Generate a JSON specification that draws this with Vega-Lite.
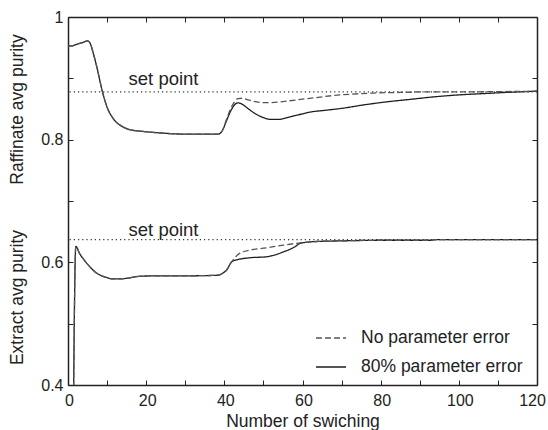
{
  "$schema": "https://vega.github.io/schema/vega-lite/v6.json",
  "autosize": "none",
  "width": 469,
  "height": 368,
  "padding": {"left": 68, "top": 17, "right": 11, "bottom": 45},
  "background": "white",
  "config": {
    "font": "Liberation Sans",
    "view": {"stroke": null},
    "axis": {
      "domainColor": "#222",
      "domainWidth": 1.5,
      "tickColor": "#222",
      "tickSize": -5,
      "tickWidth": 1,
      "grid": false,
      "labelFont": "Liberation Sans",
      "labelFontSize": 16,
      "labelColor": "#222",
      "labelFlush": false,
      "titleFont": "Liberation Sans",
      "titleFontSize": 17.5,
      "titleFontWeight": "normal",
      "titleColor": "#222"
    },
    "legend": {
      "orient": "none",
      "legendX": 247,
      "legendY": 305,
      "symbolType": "stroke",
      "symbolSize": 900,
      "symbolStrokeWidth": 1.3,
      "labelFontSize": 17.5,
      "labelFont": "Liberation Sans",
      "labelColor": "#222",
      "labelLimit": 400,
      "labelOffset": 14,
      "rowPadding": 4,
      "padding": 0
    }
  },
  "datasets": {
    "curves": [
      {"series": "Raffinate", "case": "80% parameter error", "x": 0, "y": 0.953},
      {"series": "Raffinate", "case": "80% parameter error", "x": 1, "y": 0.953},
      {"series": "Raffinate", "case": "80% parameter error", "x": 2, "y": 0.955},
      {"series": "Raffinate", "case": "80% parameter error", "x": 3, "y": 0.957},
      {"series": "Raffinate", "case": "80% parameter error", "x": 4, "y": 0.959},
      {"series": "Raffinate", "case": "80% parameter error", "x": 5, "y": 0.961},
      {"series": "Raffinate", "case": "80% parameter error", "x": 5.6, "y": 0.958},
      {"series": "Raffinate", "case": "80% parameter error", "x": 6.5, "y": 0.94},
      {"series": "Raffinate", "case": "80% parameter error", "x": 7.4, "y": 0.918},
      {"series": "Raffinate", "case": "80% parameter error", "x": 8.7, "y": 0.881},
      {"series": "Raffinate", "case": "80% parameter error", "x": 10, "y": 0.853},
      {"series": "Raffinate", "case": "80% parameter error", "x": 11.5, "y": 0.835},
      {"series": "Raffinate", "case": "80% parameter error", "x": 14, "y": 0.821},
      {"series": "Raffinate", "case": "80% parameter error", "x": 16, "y": 0.816},
      {"series": "Raffinate", "case": "80% parameter error", "x": 18.4, "y": 0.814},
      {"series": "Raffinate", "case": "80% parameter error", "x": 23.5, "y": 0.811},
      {"series": "Raffinate", "case": "80% parameter error", "x": 30, "y": 0.809},
      {"series": "Raffinate", "case": "80% parameter error", "x": 35, "y": 0.809},
      {"series": "Raffinate", "case": "80% parameter error", "x": 38.5, "y": 0.809},
      {"series": "Raffinate", "case": "80% parameter error", "x": 39.5, "y": 0.815},
      {"series": "Raffinate", "case": "80% parameter error", "x": 40.5, "y": 0.83},
      {"series": "Raffinate", "case": "80% parameter error", "x": 41.5, "y": 0.845},
      {"series": "Raffinate", "case": "80% parameter error", "x": 42.5, "y": 0.856},
      {"series": "Raffinate", "case": "80% parameter error", "x": 43.5, "y": 0.86},
      {"series": "Raffinate", "case": "80% parameter error", "x": 44.5, "y": 0.858},
      {"series": "Raffinate", "case": "80% parameter error", "x": 46, "y": 0.851},
      {"series": "Raffinate", "case": "80% parameter error", "x": 48, "y": 0.842},
      {"series": "Raffinate", "case": "80% parameter error", "x": 50, "y": 0.836},
      {"series": "Raffinate", "case": "80% parameter error", "x": 52, "y": 0.833},
      {"series": "Raffinate", "case": "80% parameter error", "x": 54, "y": 0.833},
      {"series": "Raffinate", "case": "80% parameter error", "x": 56, "y": 0.836},
      {"series": "Raffinate", "case": "80% parameter error", "x": 58, "y": 0.839},
      {"series": "Raffinate", "case": "80% parameter error", "x": 62, "y": 0.845},
      {"series": "Raffinate", "case": "80% parameter error", "x": 66, "y": 0.848},
      {"series": "Raffinate", "case": "80% parameter error", "x": 70, "y": 0.851},
      {"series": "Raffinate", "case": "80% parameter error", "x": 76, "y": 0.857},
      {"series": "Raffinate", "case": "80% parameter error", "x": 82, "y": 0.862},
      {"series": "Raffinate", "case": "80% parameter error", "x": 88, "y": 0.866},
      {"series": "Raffinate", "case": "80% parameter error", "x": 94, "y": 0.87},
      {"series": "Raffinate", "case": "80% parameter error", "x": 100, "y": 0.873},
      {"series": "Raffinate", "case": "80% parameter error", "x": 106, "y": 0.875},
      {"series": "Raffinate", "case": "80% parameter error", "x": 112, "y": 0.877},
      {"series": "Raffinate", "case": "80% parameter error", "x": 120, "y": 0.879},

      {"series": "Extract", "case": "80% parameter error", "x": 1, "y": 0.0},
      {"series": "Extract", "case": "80% parameter error", "x": 2, "y": 0.626},
      {"series": "Extract", "case": "80% parameter error", "x": 3, "y": 0.614},
      {"series": "Extract", "case": "80% parameter error", "x": 4, "y": 0.605},
      {"series": "Extract", "case": "80% parameter error", "x": 5, "y": 0.597},
      {"series": "Extract", "case": "80% parameter error", "x": 6, "y": 0.59},
      {"series": "Extract", "case": "80% parameter error", "x": 7, "y": 0.584},
      {"series": "Extract", "case": "80% parameter error", "x": 8, "y": 0.58},
      {"series": "Extract", "case": "80% parameter error", "x": 9, "y": 0.577},
      {"series": "Extract", "case": "80% parameter error", "x": 10, "y": 0.575},
      {"series": "Extract", "case": "80% parameter error", "x": 11.5, "y": 0.573},
      {"series": "Extract", "case": "80% parameter error", "x": 13, "y": 0.573},
      {"series": "Extract", "case": "80% parameter error", "x": 15, "y": 0.574},
      {"series": "Extract", "case": "80% parameter error", "x": 18, "y": 0.577},
      {"series": "Extract", "case": "80% parameter error", "x": 22, "y": 0.578},
      {"series": "Extract", "case": "80% parameter error", "x": 30, "y": 0.578},
      {"series": "Extract", "case": "80% parameter error", "x": 38.5, "y": 0.579},
      {"series": "Extract", "case": "80% parameter error", "x": 39.5, "y": 0.582},
      {"series": "Extract", "case": "80% parameter error", "x": 40.6, "y": 0.5875},
      {"series": "Extract", "case": "80% parameter error", "x": 41.9, "y": 0.601},
      {"series": "Extract", "case": "80% parameter error", "x": 43.2, "y": 0.604},
      {"series": "Extract", "case": "80% parameter error", "x": 46.6, "y": 0.6075},
      {"series": "Extract", "case": "80% parameter error", "x": 50.8, "y": 0.609},
      {"series": "Extract", "case": "80% parameter error", "x": 55.1, "y": 0.617},
      {"series": "Extract", "case": "80% parameter error", "x": 58.1, "y": 0.6255},
      {"series": "Extract", "case": "80% parameter error", "x": 59.4, "y": 0.631},
      {"series": "Extract", "case": "80% parameter error", "x": 63.6, "y": 0.634},
      {"series": "Extract", "case": "80% parameter error", "x": 70, "y": 0.635},
      {"series": "Extract", "case": "80% parameter error", "x": 80, "y": 0.636},
      {"series": "Extract", "case": "80% parameter error", "x": 93, "y": 0.636},
      {"series": "Extract", "case": "80% parameter error", "x": 94, "y": 0.637},
      {"series": "Extract", "case": "80% parameter error", "x": 120, "y": 0.637},

      {"series": "Raffinate", "case": "No parameter error", "x": 0, "y": 0.953},
      {"series": "Raffinate", "case": "No parameter error", "x": 1, "y": 0.953},
      {"series": "Raffinate", "case": "No parameter error", "x": 2, "y": 0.955},
      {"series": "Raffinate", "case": "No parameter error", "x": 3, "y": 0.957},
      {"series": "Raffinate", "case": "No parameter error", "x": 4, "y": 0.959},
      {"series": "Raffinate", "case": "No parameter error", "x": 5, "y": 0.961},
      {"series": "Raffinate", "case": "No parameter error", "x": 5.6, "y": 0.958},
      {"series": "Raffinate", "case": "No parameter error", "x": 6.5, "y": 0.94},
      {"series": "Raffinate", "case": "No parameter error", "x": 7.4, "y": 0.918},
      {"series": "Raffinate", "case": "No parameter error", "x": 8.7, "y": 0.881},
      {"series": "Raffinate", "case": "No parameter error", "x": 10, "y": 0.853},
      {"series": "Raffinate", "case": "No parameter error", "x": 11.5, "y": 0.835},
      {"series": "Raffinate", "case": "No parameter error", "x": 14, "y": 0.821},
      {"series": "Raffinate", "case": "No parameter error", "x": 16, "y": 0.816},
      {"series": "Raffinate", "case": "No parameter error", "x": 18.4, "y": 0.814},
      {"series": "Raffinate", "case": "No parameter error", "x": 23.5, "y": 0.811},
      {"series": "Raffinate", "case": "No parameter error", "x": 30, "y": 0.809},
      {"series": "Raffinate", "case": "No parameter error", "x": 35, "y": 0.809},
      {"series": "Raffinate", "case": "No parameter error", "x": 38.5, "y": 0.809},
      {"series": "Raffinate", "case": "No parameter error", "x": 39.5, "y": 0.815},
      {"series": "Raffinate", "case": "No parameter error", "x": 40.5, "y": 0.832},
      {"series": "Raffinate", "case": "No parameter error", "x": 41.5, "y": 0.849},
      {"series": "Raffinate", "case": "No parameter error", "x": 42.5, "y": 0.861},
      {"series": "Raffinate", "case": "No parameter error", "x": 43.5, "y": 0.867},
      {"series": "Raffinate", "case": "No parameter error", "x": 44.5, "y": 0.8675},
      {"series": "Raffinate", "case": "No parameter error", "x": 46, "y": 0.865},
      {"series": "Raffinate", "case": "No parameter error", "x": 48, "y": 0.862},
      {"series": "Raffinate", "case": "No parameter error", "x": 50, "y": 0.8605},
      {"series": "Raffinate", "case": "No parameter error", "x": 52, "y": 0.8605},
      {"series": "Raffinate", "case": "No parameter error", "x": 56, "y": 0.863},
      {"series": "Raffinate", "case": "No parameter error", "x": 60, "y": 0.866},
      {"series": "Raffinate", "case": "No parameter error", "x": 64, "y": 0.869},
      {"series": "Raffinate", "case": "No parameter error", "x": 68, "y": 0.872},
      {"series": "Raffinate", "case": "No parameter error", "x": 72, "y": 0.874},
      {"series": "Raffinate", "case": "No parameter error", "x": 78, "y": 0.876},
      {"series": "Raffinate", "case": "No parameter error", "x": 85, "y": 0.877},
      {"series": "Raffinate", "case": "No parameter error", "x": 92, "y": 0.878},
      {"series": "Raffinate", "case": "No parameter error", "x": 100, "y": 0.878},
      {"series": "Raffinate", "case": "No parameter error", "x": 120, "y": 0.879},

      {"series": "Extract", "case": "No parameter error", "x": 1, "y": 0.0},
      {"series": "Extract", "case": "No parameter error", "x": 2, "y": 0.626},
      {"series": "Extract", "case": "No parameter error", "x": 3, "y": 0.614},
      {"series": "Extract", "case": "No parameter error", "x": 4, "y": 0.605},
      {"series": "Extract", "case": "No parameter error", "x": 5, "y": 0.597},
      {"series": "Extract", "case": "No parameter error", "x": 6, "y": 0.59},
      {"series": "Extract", "case": "No parameter error", "x": 7, "y": 0.584},
      {"series": "Extract", "case": "No parameter error", "x": 8, "y": 0.58},
      {"series": "Extract", "case": "No parameter error", "x": 9, "y": 0.577},
      {"series": "Extract", "case": "No parameter error", "x": 10, "y": 0.575},
      {"series": "Extract", "case": "No parameter error", "x": 11.5, "y": 0.573},
      {"series": "Extract", "case": "No parameter error", "x": 13, "y": 0.573},
      {"series": "Extract", "case": "No parameter error", "x": 15, "y": 0.574},
      {"series": "Extract", "case": "No parameter error", "x": 18, "y": 0.577},
      {"series": "Extract", "case": "No parameter error", "x": 22, "y": 0.578},
      {"series": "Extract", "case": "No parameter error", "x": 30, "y": 0.578},
      {"series": "Extract", "case": "No parameter error", "x": 38.5, "y": 0.579},
      {"series": "Extract", "case": "No parameter error", "x": 39.5, "y": 0.582},
      {"series": "Extract", "case": "No parameter error", "x": 40.6, "y": 0.5875},
      {"series": "Extract", "case": "No parameter error", "x": 41.9, "y": 0.601},
      {"series": "Extract", "case": "No parameter error", "x": 44, "y": 0.615},
      {"series": "Extract", "case": "No parameter error", "x": 46.6, "y": 0.62},
      {"series": "Extract", "case": "No parameter error", "x": 50, "y": 0.623},
      {"series": "Extract", "case": "No parameter error", "x": 55.1, "y": 0.628},
      {"series": "Extract", "case": "No parameter error", "x": 58.5, "y": 0.631},
      {"series": "Extract", "case": "No parameter error", "x": 63.6, "y": 0.634},
      {"series": "Extract", "case": "No parameter error", "x": 70, "y": 0.635},
      {"series": "Extract", "case": "No parameter error", "x": 80, "y": 0.636},
      {"series": "Extract", "case": "No parameter error", "x": 93, "y": 0.636},
      {"series": "Extract", "case": "No parameter error", "x": 94, "y": 0.637},
      {"series": "Extract", "case": "No parameter error", "x": 120, "y": 0.637}
    ],
    "setpoints": [
      {"name": "Raffinate", "sp": 0.878},
      {"name": "Extract", "sp": 0.637}
    ],
    "labels": [
      {"label": "set point", "x": 15.5, "y": 0.889},
      {"label": "set point", "x": 15.5, "y": 0.6434}
    ]
  },
  "layer": [
    {
      "data": {"name": "setpoints"},
      "mark": {"type": "rule", "stroke": "#333", "strokeWidth": 1.2, "strokeDash": [1.2, 3]},
      "encoding": {
        "y": {
          "field": "sp", "type": "quantitative",
          "scale": {"domain": [0.4, 1], "nice": false, "zero": false},
          "axis": {
            "orient": "left",
            "labels": false,
            "ticks": false,
            "domain": false,
            "title": "Extract avg purity",
            "titleX": -42,
            "titleY": 280
          }
        }
      }
    },
    {
      "data": {"name": "curves"},
      "mark": {"type": "line", "clip": true, "interpolate": "monotone", "strokeWidth": 1.3},
      "encoding": {
        "x": {
          "field": "x", "type": "quantitative",
          "scale": {"domain": [0, 120], "nice": false},
          "axis": {
            "orient": "bottom",
            "values": [0, 10, 20, 30, 40, 50, 60, 70, 80, 90, 100, 110, 120],
            "labelExpr": "datum.value % 20 == 0 ? datum.label : ''",
            "labelOffset": {"condition": {"test": "datum.value == 120", "value": -5}, "value": 1},
            "labelPadding": 12,
            "title": "Number of swiching",
            "titlePadding": 4
          }
        },
        "y": {
          "field": "y", "type": "quantitative",
          "scale": {"domain": [0.4, 1], "nice": false, "zero": false},
          "axis": {
            "orient": "left",
            "values": [0.4, 0.5, 0.6, 0.7, 0.8, 0.9, 1],
            "format": "~g",
            "labelExpr": "round(datum.value * 10) % 2 == 0 ? datum.label : ''",
            "labelPadding": 10,
            "title": "Raffinate avg purity",
            "titleX": -42,
            "titleY": 92
          }
        },
        "detail": {"field": "series"},
        "strokeDash": {
          "field": "case", "type": "nominal",
          "scale": {"domain": ["No parameter error", "80% parameter error"], "range": [[6, 3], [1, 0]]},
          "legend": {"title": null}
        },
        "color": {
          "field": "case", "type": "nominal",
          "scale": {"domain": ["No parameter error", "80% parameter error"], "range": ["#555555", "#1e1e1e"]},
          "legend": {"title": null}
        }
      }
    },
    {
      "data": {"name": "labels"},
      "mark": {"type": "text", "align": "left", "baseline": "alphabetic", "fontSize": 18.5, "font": "Liberation Sans", "color": "#222"},
      "encoding": {
        "x": {
          "field": "x", "type": "quantitative",
          "scale": {"domain": [0, 120], "nice": false},
          "axis": {
            "orient": "top",
            "values": [0, 10, 20, 30, 40, 50, 60, 70, 80, 90, 100, 110, 120],
            "labels": false,
            "title": null
          }
        },
        "y": {
          "field": "y", "type": "quantitative",
          "scale": {"domain": [0.4, 1], "nice": false, "zero": false},
          "axis": {
            "orient": "right",
            "values": [0.4, 0.5, 0.6, 0.7, 0.8, 0.9, 1],
            "labels": false,
            "title": null
          }
        },
        "text": {"field": "label"}
      }
    }
  ],
  "resolve": {"axis": {"x": "independent", "y": "independent"}}
}
